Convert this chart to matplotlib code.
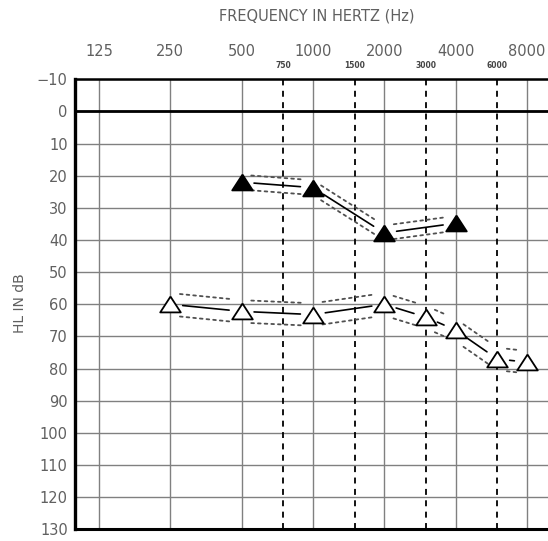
import numpy as np
import matplotlib
matplotlib.use('Agg')
import matplotlib.pyplot as plt
from matplotlib.transforms import blended_transform_factory

# audiogram data (dB HL)
main_freqs = [125, 250, 500, 1000, 2000, 4000, 8000]
mid_freqs = [750, 1500, 3000, 6000]
db_ticks = list(range(-10, 140, 10))

filled_freqs = [500, 1000, 2000, 4000]
filled_db = [22, 23.7, 37.8, 34.8]
filled_band = 2.3

open_freqs = [250, 500, 1000, 2000, 3000, 4000, 6000, 8000]
open_db = [60, 62.2, 63.2, 60, 64, 68, 77, 78]
open_band = 3.5

TEXT = '#606060'
GRID = '#808080'


def oct_pos(f):
    # octaves above 125 Hz
    return np.log2(np.asarray(f, dtype=float) / 125.0)


fig = plt.figure(figsize=(5.48, 5.41), dpi=100)
ax = fig.add_axes([74.7 / 548, 11.7 / 541, 1 - 74.7 / 548, (529.3 - 79.3) / 541])

ax.set_xlim(-0.34, 6.297)
ax.set_ylim(130, -10)

# grid
ax.set_xticks(oct_pos(main_freqs))
ax.set_xticklabels([])
ax.set_yticks(db_ticks)
ax.set_yticklabels([str(v).replace('-', '\u2212') for v in db_ticks],
                   color=TEXT, fontsize=10.5)
ax.tick_params(axis='both', length=0)
ax.tick_params(axis='y', pad=5)
ax.grid(True, color=GRID, lw=1.0)
ax.set_axisbelow(True)

ax.spines['right'].set_visible(False)
ax.spines['left'].set_linewidth(2.4)
ax.spines['bottom'].set_linewidth(2.2)
ax.spines['top'].set_linewidth(1.8)
ax.axhline(0, color='black', lw=2.0, zorder=2)

for f in mid_freqs:
    ax.axvline(oct_pos(f), color='black', lw=1.3,
               linestyle=(0, (3.3, 3.0)), zorder=2)

# frequency labels on top
trans = blended_transform_factory(ax.transData, ax.transAxes)
for f in main_freqs:
    ax.annotate(str(f), xy=(oct_pos(f), 1), xycoords=trans,
                xytext=(0, 20), textcoords='offset points',
                ha='center', va='center', color=TEXT, fontsize=10.5)
for f in mid_freqs:
    ax.annotate(str(f), xy=(oct_pos(f), 1), xycoords=trans,
                xytext=(0, 9.6), textcoords='offset points',
                ha='center', va='center', color='#444444', fontsize=5.5,
                fontweight='bold')

fig.text(317 / 548, 1 - 16 / 541, 'FREQUENCY IN HERTZ (Hz)', ha='center',
         va='center', color=TEXT, fontsize=10.5)
fig.text(20 / 548, 1 - 303 / 541, 'HL IN dB', ha='center', va='center',
         rotation=90, color=TEXT, fontsize=10)


def draw_series(freqs, dbs, band, face):
    xs = oct_pos(freqs)
    for i in range(len(xs) - 1):
        x0, x1 = xs[i], xs[i + 1]
        y0, y1 = dbs[i], dbs[i + 1]
        ax.annotate('', xy=(x1, y1), xytext=(x0, y0),
                    arrowprops=dict(arrowstyle='-', color='black', lw=1.2,
                                    shrinkA=9, shrinkB=9))
        for s in (-band, band):
            ax.annotate('', xy=(x1, y1 + s), xytext=(x0, y0 + s),
                        arrowprops=dict(arrowstyle='-', color='#505050',
                                        lw=1.3, linestyle=(0, (1.5, 2.2)),
                                        shrinkA=7, shrinkB=7))
    tri = [(0, 1), (-1.3, -1), (1.3, -1), (0, 1)]
    ax.plot(xs, dbs, linestyle='none', marker=tri, markersize=14.8,
            markerfacecolor=face, markeredgecolor='black',
            markeredgewidth=1.3, zorder=5, clip_on=False)


draw_series(filled_freqs, filled_db, filled_band, 'black')
draw_series(open_freqs, open_db, open_band, 'white')

fig.savefig('out.png', dpi=100)
